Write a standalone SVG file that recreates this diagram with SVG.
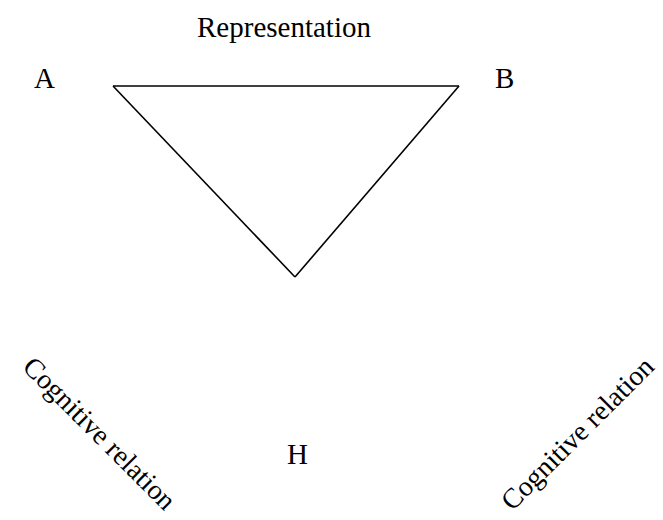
<svg xmlns="http://www.w3.org/2000/svg" width="663" height="520" viewBox="0 0 663 520">
<style>
.t{font-family:"Liberation Serif","Times New Roman",serif;font-size:29px;fill:#000}
.r{font-size:28px}
.e{fill:none;stroke:#000;stroke-width:1.6;stroke-linejoin:miter}
</style>
<rect width="663" height="520" fill="#fff"/>
<g id="connectors">
<path class="e" d="M113,86 L459,86"/>
<path class="e" d="M113,86 L295,277"/>
<path class="e" d="M459,86 L295,277"/>
</g>
<g id="label-representation"><text class="t" x="284" y="37" text-anchor="middle">Representation</text></g>
<g id="node-A"><text class="t" x="34" y="88">A</text></g>
<g id="node-B"><text class="t" x="495" y="88">B</text></g>
<g id="node-H"><text class="t" x="287" y="464">H</text></g>
<g id="label-left"><text class="t r" transform="translate(93,440) rotate(45)" text-anchor="middle">Cognitive relation</text></g>
<g id="label-right"><text class="t r" transform="translate(584,440) rotate(-45)" text-anchor="middle">Cognitive relation</text></g>
</svg>
